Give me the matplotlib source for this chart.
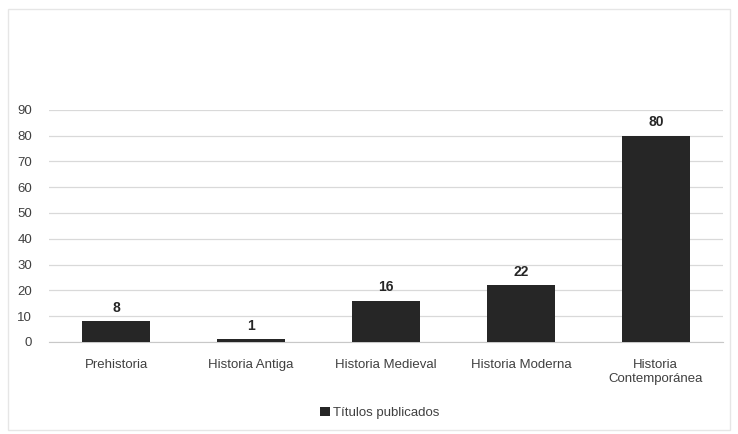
import matplotlib.pyplot as plt
from matplotlib.patches import Rectangle

categories = ["Prehistoria", "Historia Antiga", "Historia Medieval", "Historia Moderna",
              "Historia\nContemporánea"]
values = [8, 1, 16, 22, 80]
series_name = "Títulos publicados"

plt.rcParams['font.family'] = ['Liberation Sans', 'DejaVu Sans']

fig = plt.figure(figsize=(7.38, 4.34), dpi=100)
ax = fig.add_axes([0.066, 0.212, 0.914, 0.535])

x = range(len(categories))
bars = ax.bar(x, values, width=0.5, color="#262626", label=series_name, zorder=3)

for b, v in zip(bars, values):
    ax.text(b.get_x() + b.get_width() / 2, v + 2.5, str(v), ha="center", va="bottom",
            fontsize=10, color="#262626", fontweight="semibold")

ax.set_xlim(-0.5, len(categories) - 0.5)
ax.set_ylim(0, 90)
ax.set_yticks(range(0, 91, 10))
ax.set_xticks(list(x))
ax.set_xticklabels(categories, fontsize=9.5, color="#404040", linespacing=1.3)
ax.tick_params(axis="y", labelsize=9.5, labelcolor="#404040", length=0, pad=12)
ax.tick_params(axis="x", length=0, pad=12)
ax.grid(axis="y", color="#d9d9d9", linewidth=0.9, zorder=0)
for s in ["top", "right", "left"]:
    ax.spines[s].set_visible(False)
ax.spines["bottom"].set_color("#c8c8c8")

fig.legend(handles=[bars], labels=[series_name], loc="center", bbox_to_anchor=(0.515, 0.048),
           frameon=False, fontsize=9.5, handlelength=0.7, handleheight=0.7,
           handletextpad=0.3, labelcolor="#404040")

fig.patches.append(Rectangle((0.011, 0.009), 0.978, 0.97, transform=fig.transFigure,
                             fill=False, edgecolor="#e6e6e6", linewidth=1))

fig.savefig("out.png", dpi=100)
